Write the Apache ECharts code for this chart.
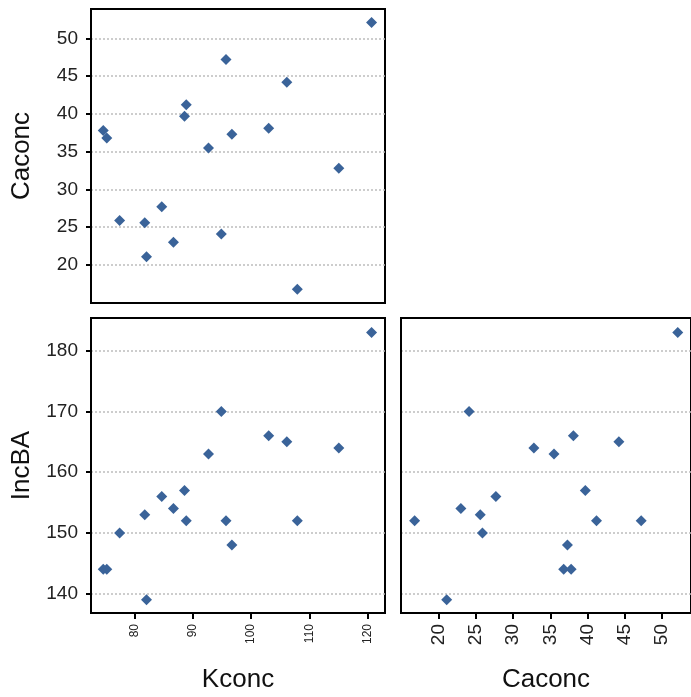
<!DOCTYPE html>
<html>
<head>
<meta charset="utf-8">
<script src="https://cdn.jsdelivr.net/npm/echarts@6/dist/echarts.min.js"></script>
<style>
  html, body { margin: 0; padding: 0; background: #fff; }
  #main { width: 691px; height: 697px; }
</style>
</head>
<body>
<div id="main"></div>
<script>
var kconc  = [120.6, 95.7, 106.1, 88.9, 88.6, 74.7, 75.3, 96.7, 103.0, 92.7, 115.0, 84.7, 77.5, 81.8, 86.7, 94.9, 82.1, 107.9];
var caconc = [52.1, 47.2, 44.2, 41.2, 39.7, 37.8, 36.8, 37.3, 38.1, 35.5, 32.8, 27.7, 25.9, 25.6, 23.0, 24.1, 21.1, 16.8];
var incba  = [183, 152, 165, 152, 157, 144, 144, 148, 166, 163, 164, 156, 150, 153, 154, 170, 139, 152];

// tick labels
var kTicks   = [80, 90, 100, 110, 120];
var caTicks  = [20, 25, 30, 35, 40, 45, 50];
var incTicks = [140, 150, 160, 170, 180];

var kRange   = [72.6, 122.9];
var caRange  = [14.97, 53.88];
var incRange = [136.8, 185.4];

var dotColor = '#3a6399';
var font = 'Liberation Sans, Arial, sans-serif';

function pairs(xs, ys) {
  var out = [];
  for (var i = 0; i < xs.length; i++) out.push([xs[i], ys[i]]);
  return out;
}

var blackLine = { show: true, onZero: false, lineStyle: { color: '#000', width: 2 } };
var dotted = { show: true, lineStyle: { color: '#bdbdbd', type: [2, 2], width: 1.5 } };

function yAxis(idx, range, ticks, name, showLabels) {
  return {
    type: 'value', gridIndex: idx, min: range[0], max: range[1],
    name: name, nameLocation: 'middle', nameGap: 56,
    nameTextStyle: { fontSize: 26, color: '#111', fontFamily: font },
    axisLine: blackLine,
    axisTick: { show: showLabels, customValues: ticks, length: 5, inside: false,
                lineStyle: { color: '#000', width: 2 } },
    axisLabel: { show: showLabels, customValues: ticks, margin: 13,
                 fontSize: 19, color: '#222', fontFamily: font },
    splitLine: dotted
  };
}

function xAxis(idx, range, ticks, name, labelSize) {
  var show = !!ticks;
  return {
    type: 'value', gridIndex: idx, min: range[0], max: range[1],
    name: name || '', nameLocation: 'middle', nameGap: 54,
    nameTextStyle: { fontSize: 26, color: '#111', fontFamily: font },
    axisLine: blackLine,
    axisTick: { show: show, customValues: ticks || [], length: 6,
                lineStyle: { color: '#000', width: 2 } },
    axisLabel: { show: show, customValues: ticks || [], rotate: 90, margin: 11,
                 fontSize: labelSize || 12, color: '#222', fontFamily: font },
    splitLine: { show: false }
  };
}

var chart = echarts.init(document.getElementById('main'));

var gridBase = { show: true, borderColor: '#000', borderWidth: 2, backgroundColor: '#fff' };

function scatter(i, xs, ys) {
  return { type: 'scatter', xAxisIndex: i, yAxisIndex: i, symbol: 'diamond', symbolSize: 11,
           itemStyle: { color: dotColor, opacity: 1 }, data: pairs(xs, ys) };
}

chart.setOption({
  animation: false,
  backgroundColor: '#fff',
  grid: [
    Object.assign({ left: 91, top: 9, width: 294, height: 294 }, gridBase),
    Object.assign({ left: 91, top: 318, width: 294, height: 295 }, gridBase),
    Object.assign({ left: 401, top: 318, width: 294, height: 295 }, gridBase)
  ],
  xAxis: [
    xAxis(0, kRange, null, ''),
    xAxis(1, kRange, kTicks, 'Kconc', 12),
    xAxis(2, caRange, caTicks, 'Caconc', 19)
  ],
  yAxis: [
    yAxis(0, caRange, caTicks, 'Caconc', true),
    yAxis(1, incRange, incTicks, 'IncBA', true),
    yAxis(2, incRange, incTicks, '', false)
  ],
  series: [
    scatter(0, kconc, caconc),
    scatter(1, kconc, incba),
    scatter(2, caconc, incba)
  ]
});
</script>
</body>
</html>
